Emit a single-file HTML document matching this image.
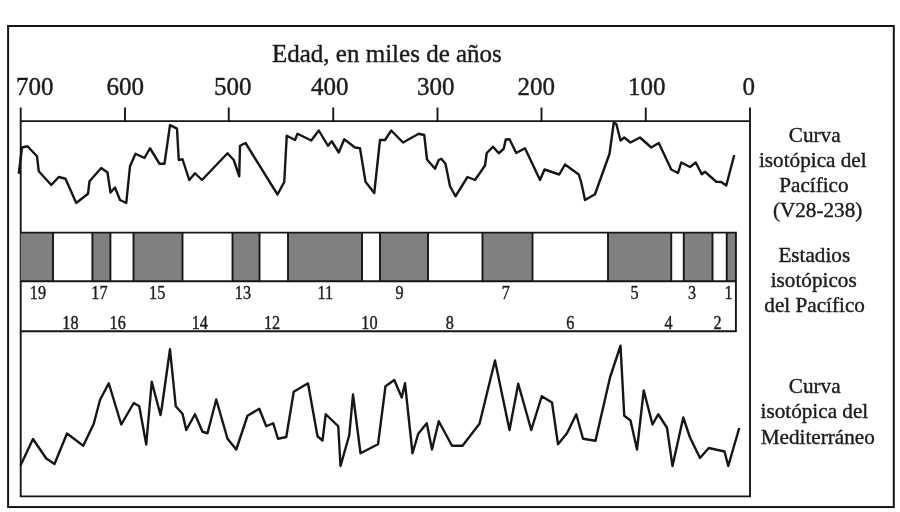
<!DOCTYPE html>
<html lang="es">
<head>
<meta charset="utf-8">
<title>Curvas isotópicas</title>
<style>
html,body{margin:0;padding:0;background:#fff;}
body{width:900px;height:512px;overflow:hidden;}
svg{display:block;filter:blur(0.45px);}
svg text{font-family:"Liberation Serif",serif;fill:#1c1c1c;stroke:#1c1c1c;stroke-width:0.4px;stroke-linejoin:round;}
.ax{font-size:25px;}
.lb{font-size:21.2px;}
.st{font-size:18px;}
</style>
</head>
<body>
<svg width="900" height="512" viewBox="0 0 900 512">
<rect x="0" y="0" width="900" height="512" fill="#ffffff"/>
<rect x="8.1" y="26" width="885.7" height="481.05" fill="none" stroke="#161616" stroke-width="2"/>
<path d="M20.7,107.6 V496.4 H750 V107.6 M20.7,121.1 H750" fill="none" stroke="#161616" stroke-width="1.9"/>
<path d="M125,107.6 V121.1 M228.75,107.6 V121.1 M333.25,107.6 V121.1 M437.5,107.6 V121.1 M541.5,107.6 V121.1 M645.75,107.6 V121.1" fill="none" stroke="#161616" stroke-width="1.9"/>
<rect x="20.7" y="232.6" width="32.3" height="48.6" fill="#808080"/>
<rect x="92.4" y="232.6" width="18" height="48.6" fill="#808080"/>
<rect x="133.5" y="232.6" width="49" height="48.6" fill="#808080"/>
<rect x="232.5" y="232.6" width="27" height="48.6" fill="#808080"/>
<rect x="288" y="232.6" width="74" height="48.6" fill="#808080"/>
<rect x="380" y="232.6" width="48" height="48.6" fill="#808080"/>
<rect x="482.5" y="232.6" width="50" height="48.6" fill="#808080"/>
<rect x="608" y="232.6" width="63.25" height="48.6" fill="#808080"/>
<rect x="683.75" y="232.6" width="28.75" height="48.6" fill="#808080"/>
<rect x="726.75" y="232.6" width="9.15" height="48.6" fill="#808080"/>
<path d="M53,232.6 V281.2 M92.4,232.6 V281.2 M110.4,232.6 V281.2 M133.5,232.6 V281.2 M182.5,232.6 V281.2 M232.5,232.6 V281.2 M259.5,232.6 V281.2 M288,232.6 V281.2 M362,232.6 V281.2 M380,232.6 V281.2 M428,232.6 V281.2 M482.5,232.6 V281.2 M532.5,232.6 V281.2 M608,232.6 V281.2 M671.25,232.6 V281.2 M683.75,232.6 V281.2 M712.5,232.6 V281.2 M726.75,232.6 V281.2" fill="none" stroke="#161616" stroke-width="1.9"/>
<path d="M20.7,232.6 H735.9 V331.3 H20.7 M20.7,281.2 H735.9" fill="none" stroke="#161616" stroke-width="1.9"/>
<polyline points="18.75,173.75 22,147.5 27.5,146.25 37,156.25 38.75,171.25 51.25,185 58.75,177 65.5,178.75 76.25,203 88,193.75 89.5,181.25 101.25,168 107.5,172.5 110.5,192.5 115,187.5 120,200 126.25,203 130,166.25 135.5,153.75 144.5,158 150,148.25 159.5,163.75 164.5,163.75 170,125.2 177,128.6 178.75,160 182.5,159.25 189.25,180 195,173.25 202,180 227.5,153.25 233.75,160 239.25,176.25 240,145.75 245.5,143 277.5,194.5 284.25,182 286.75,135.75 295,140 297.5,133.75 311.25,140.5 318.75,130.5 328,145.75 331.75,141.25 338.75,152.5 344.25,139.25 355,147.5 360,148.25 365.5,181.75 374.25,193 380,140 385,140 391.25,130.5 403,142.5 418.75,133.75 424.25,135 427,159.5 435,168.75 438.75,160 441.25,158.75 445.5,163.75 450,186.25 455.5,196.25 467.5,177 475,180 485,165.5 486.75,153 493,146.75 498.75,153.25 503.75,148.75 505.75,139.5 509.5,139.25 516.25,153 525,148.25 540,180 544.5,169.5 559.25,174.5 565,164.5 578.75,174.5 581.25,182.5 585,200 595,194.25 609.5,153.75 613.75,122.75 616.25,123.75 620.5,140.5 624.25,137.5 630.5,142.5 640,137.5 651.25,147.5 658.75,143 671.25,169.5 678,173 681.25,162.5 690,167 695.75,162.5 701.75,174.25 705,171.75 716.25,181.75 721.25,182 726.25,185.5 734.25,155" fill="none" stroke="#161616" stroke-width="2.4" stroke-linejoin="round" stroke-linecap="butt"/>
<polyline points="20.5,465.5 33,439 46.25,458.5 54.5,464 67,433.5 83.25,445.75 93.75,423.75 100,400 108.75,383.25 121.25,424.5 133.75,403 139.25,406.25 146.25,444.5 151.75,381.75 160.5,415 162,406.25 170,349.25 175.75,406.25 182.5,413.75 186.25,430 195,414.25 202.5,431.75 207.5,433.25 216.25,399.5 227.5,438.75 236.25,449.5 247.5,415.75 259.25,408.75 266.25,426.25 273.25,423.25 278,438.75 286.25,437 293.75,391.75 308,383.25 317.5,436.25 322.5,440.5 325.75,414.25 338.25,426.25 340.5,466 349.25,435.25 353,394.5 360.5,453.25 378,444.25 385.5,386.25 394.25,380 401.75,397.5 405,383.25 412.5,453.25 418.25,433.75 426.75,423.25 432,449.5 438.75,421.25 452,445.75 462.5,445.75 479.5,423.75 495,360.5 509.5,430 518.25,383.75 531.25,430 541.75,396.25 552,402.5 558,444.25 567,433.25 576.25,414.25 583,438.75 595.5,440.75 610,377.5 620.5,345.75 624.25,415.75 630.5,420.5 637,449.5 643.75,390.5 652.5,424.5 658.25,414.25 667,427.75 672.5,466 683.25,417.5 690,437.5 700,458 708.75,448 724.5,451.5 728.25,466 739.25,428" fill="none" stroke="#161616" stroke-width="2.4" stroke-linejoin="round" stroke-linecap="butt"/>
<text class="ax" x="272" y="62">Edad, en miles de años</text>
<text class="ax" x="16" y="94.5">700</text>
<text class="ax" x="106.5" y="94.5">600</text>
<text class="ax" x="214" y="94.5">500</text>
<text class="ax" x="311" y="94.5">400</text>
<text class="ax" x="417" y="94.5">300</text>
<text class="ax" x="517.5" y="94.5">200</text>
<text class="ax" x="628" y="94.5">100</text>
<text class="ax" x="742.5" y="94.5">0</text>
<text class="st" transform="translate(29.8,299.3) scale(0.9,1)">19</text>
<text class="st" transform="translate(91.3,299.3) scale(0.9,1)">17</text>
<text class="st" transform="translate(149.05,299.3) scale(0.9,1)">15</text>
<text class="st" transform="translate(234.8,299.3) scale(0.9,1)">13</text>
<text class="st" transform="translate(317.5,299.3) scale(0.9,1)">11</text>
<text class="st" transform="translate(395.5,299.3) scale(0.9,1)">9</text>
<text class="st" transform="translate(501.8,299.3) scale(0.9,1)">7</text>
<text class="st" transform="translate(630.5,299.3) scale(0.9,1)">5</text>
<text class="st" transform="translate(688.1,299.3) scale(0.9,1)">3</text>
<text class="st" transform="translate(724.6,299.3) scale(0.9,1)">1</text>
<text class="st" transform="translate(62.3,328.5) scale(0.9,1)">18</text>
<text class="st" transform="translate(109.55,328.5) scale(0.9,1)">16</text>
<text class="st" transform="translate(191.7,328.5) scale(0.9,1)">14</text>
<text class="st" transform="translate(263.9,328.5) scale(0.9,1)">12</text>
<text class="st" transform="translate(361.3,328.5) scale(0.9,1)">10</text>
<text class="st" transform="translate(445.7,328.5) scale(0.9,1)">8</text>
<text class="st" transform="translate(566.3,328.5) scale(0.9,1)">6</text>
<text class="st" transform="translate(664.6,328.5) scale(0.9,1)">4</text>
<text class="st" transform="translate(713.5,328.5) scale(0.9,1)">2</text>
<text class="lb" x="814.7" y="141.7" text-anchor="middle">Curva</text>
<text class="lb" x="812.8" y="166.7" text-anchor="middle">isotópica del</text>
<text class="lb" x="813.9" y="192.1" text-anchor="middle">Pacífico</text>
<text class="lb" x="817.6" y="216.7" text-anchor="middle">(V28-238)</text>
<text class="lb" x="814.3" y="261.8" text-anchor="middle">Estadios</text>
<text class="lb" x="813.7" y="286.6" text-anchor="middle">isotópicos</text>
<text class="lb" x="814.6" y="311.7" text-anchor="middle">del Pacífico</text>
<text class="lb" x="814.7" y="393.3" text-anchor="middle">Curva</text>
<text class="lb" x="814.4" y="418.3" text-anchor="middle">isotópica del</text>
<text class="lb" x="817.8" y="443.6" text-anchor="middle">Mediterráneo</text>
</svg>
</body>
</html>
